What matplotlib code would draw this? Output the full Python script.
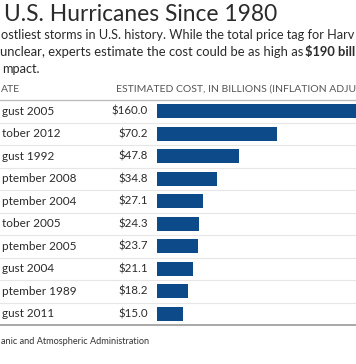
import matplotlib
matplotlib.use("Agg")
import matplotlib.pyplot as plt

plt.rcParams['font.family'] = ['Lato', 'DejaVu Sans']

dates = ["gust 2005", "tober 2012", "gust 1992", "ptember 2008",
         "ptember 2004", "tober 2005", "ptember 2005", "gust 2004",
         "ptember 1989", "gust 2011"]
costs = [160.0, 70.2, 47.8, 34.8, 27.1, 24.3, 23.7, 21.1, 18.2, 15.0]
cost_labels = ["$160.0", "$70.2", "$47.8", "$34.8", "$27.1", "$24.3",
               "$23.7", "$21.1", "$18.2", "$15.0"]

title = "U.S. Hurricanes Since 1980"
sub1 = "ostliest storms in U.S. history. While the total price tag for Harv"
sub2a = "unclear, experts estimate the cost could be as high as "
sub2b = "$190 bill"
sub3 = "mpact."
head_date = "ATE"
head_cost = "ESTIMATED COST, IN BILLIONS (INFLATION ADJU"
source = "anic and Atmospheric Administration"

W, H = 356, 364
fig = plt.figure(figsize=(W / 100, H / 100), dpi=100)
fig.patch.set_facecolor("white")
renderer = fig.canvas.get_renderer()

def fx(px):
    return px / W

def fy(py):
    return 1 - py / H

BLUE = "#0d4a8a"
DARK = "#2b2b2b"

def fit_text(x0, x1, ybase, s, size, **kw):
    t = fig.text(fx(x0), fy(ybase), s, fontsize=size, ha="left", va="baseline", **kw)
    bb = t.get_window_extent(renderer)
    t.set_fontsize(size * (x1 - x0) / bb.width)
    return t

# Title and subtitle
fit_text(4, 277, 21, title, 16.5, color=DARK)
t1 = fit_text(1, 355, 39, sub1, 9.3, color=DARK)
sub_size = t1.get_fontsize()
t2 = fit_text(0, 303, 56, sub2a, 9.3, color=DARK)
fit_text(305, 355, 56, sub2b, 9.3, color=DARK, fontweight="bold")
fig.text(fx(2), fy(73), sub3, fontsize=sub_size, color=DARK, ha="left", va="baseline")

# Header
th = fit_text(116, 355, 92, head_cost, 7, color="#555555")
fig.text(fx(1), fy(92), head_date, fontsize=th.get_fontsize(), color="#555555",
         ha="left", va="baseline")

# Bars axes
top_px, bot_px = 100, 325
left_px = 157
ax = fig.add_axes([fx(left_px), fy(bot_px), fx(W - left_px) + 0.01, (bot_px - top_px) / H])
n = len(costs)
ypos = list(range(n))
ax.barh(ypos, costs, height=0.62, color=BLUE, left=0)
ax.set_ylim(n - 0.5, -0.5)
ax.set_xlim(0, (W - left_px) / 1.681)
ax.axis("off")

# Row lines and labels on full-figure overlay
ov = fig.add_axes([0, 0, 1, 1], zorder=-1)
ov.set_xlim(0, W)
ov.set_ylim(H, 0)
ov.axis("off")
row_h = (bot_px - top_px) / n
ov.plot([0, W], [top_px, top_px], color="#bdbdbd", lw=1.0)
for i in range(1, n):
    yy = top_px + i * row_h
    ov.plot([0, W], [yy, yy], color="#e6e6e6", lw=0.8)
ov.plot([0, W], [bot_px, bot_px], color="#9a9a9a", lw=1.2)

for i, (d, lab) in enumerate(zip(dates, cost_labels)):
    yc = top_px + (i + 0.5) * row_h
    ov.text(1.5, yc, d, fontsize=8.5, color=DARK, ha="left", va="center")
    ov.text(148, yc, lab, fontsize=8.3, color=DARK, ha="right", va="center")

fit_text(1, 148, 344, source, 6.6, color="#333333")

fig.savefig("out.png", dpi=100)
